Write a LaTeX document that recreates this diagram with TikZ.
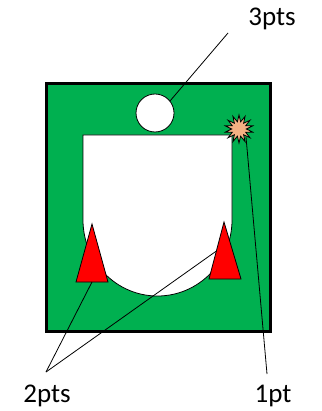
\documentclass[tikz,border=0pt]{standalone}
\usepackage{fontspec}
\setmainfont{Carlito}
\usetikzlibrary{shapes.geometric}
\definecolor{offgreen}{HTML}{00B050}
\definecolor{peach}{HTML}{F4B183}
\tikzset{
  outl/.style={draw=black, line width=0.8pt},
  lead/.style={draw=black, line width=0.8pt},
  lbl/.style={inner sep=0pt, font=\fontsize{27}{27}\selectfont},
}
\begin{document}
\begin{tikzpicture}[x=1pt, y=-1pt]
\useasboundingbox (0,0) rectangle (321,411);
% green board
\draw[fill=offgreen, draw=black, line width=3pt] (46.5,83.5) rectangle (270.5,331.5);
% white cut-out
\draw[outl, fill=white] (83,135) -- (232,135) -- (232,220) arc[start angle=0, end angle=180, x radius=74.5, y radius=76] -- cycle;
% circle
\node[outl, fill=white, circle, minimum size=38pt, inner sep=0pt] (hole) at (155,113) {};
% star
\node[outl, fill=peach, star, star points=14, star point ratio=1.9, minimum size=28pt, inner sep=0pt] (burst) at (239,129) {};
% triangles
\draw[outl, fill=red] (92,224) -- (108,282) -- (76,282) -- cycle;
\draw[outl, fill=red] (224,222) -- (241,279) -- (209,279) -- cycle;
\coordinate (tl) at (92,282);
\coordinate (tr) at (216.4,251);
\coordinate (c3) at (170,101);
\coordinate (s1) at (246,137);
% labels
\node[lbl] (l3) at (272,19) {3pts};
\node[lbl] (l2) at (47,396) {2pts};
\node[lbl] (l1) at (273,396) {1pt};
\coordinate (e3) at (228,33);
\coordinate (e2) at (46,372);
\coordinate (e1) at (267,374);
% leaders
\draw[lead] (e3) -- (c3);
\draw[lead] (e2) -- (tl);
\draw[lead] (e2) -- (tr);
\draw[lead] (e1) -- (s1);
\end{tikzpicture}
\end{document}
